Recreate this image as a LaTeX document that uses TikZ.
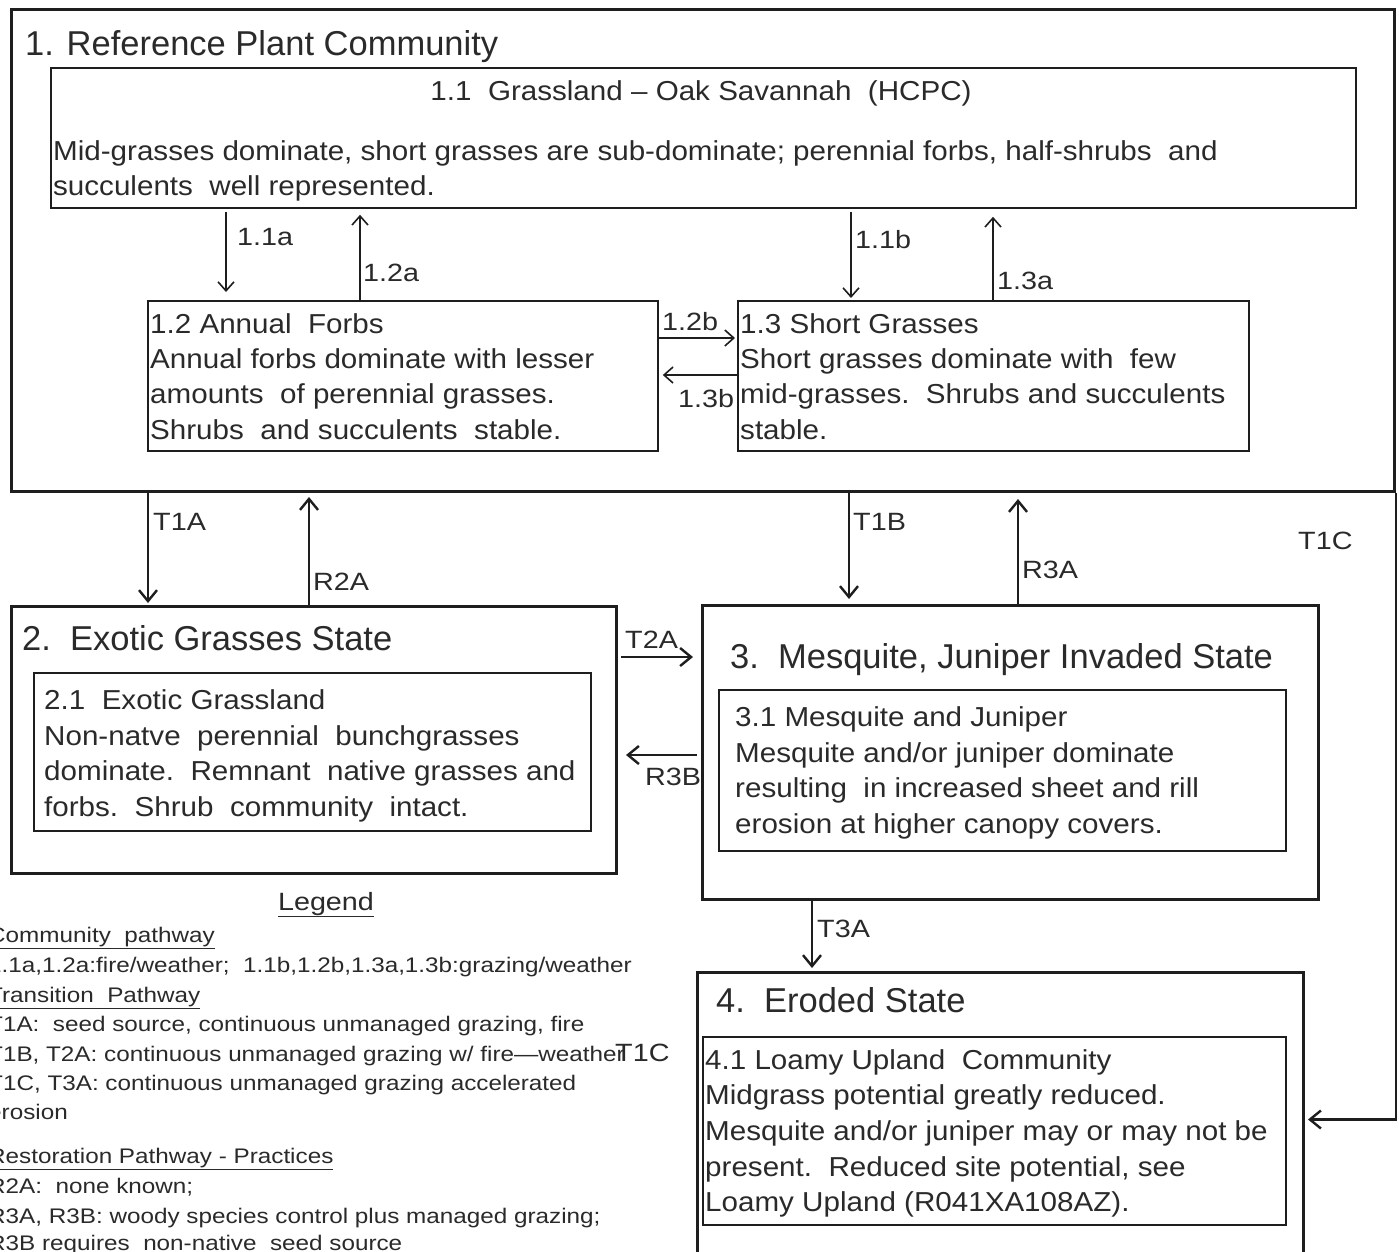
\documentclass[tikz,border=0pt]{standalone}
\usepackage{fontspec}
\setmainfont{Liberation Sans}
\newfontfamily\bodyfont{Liberation Sans}[FakeStretch=1.08,Ligatures=TeX]
\newfontfamily\legfont{Liberation Sans}[FakeStretch=1.15,Ligatures=TeX]
\newfontfamily\lblfont{Liberation Sans}[FakeStretch=1.15,Ligatures=TeX]
\usetikzlibrary{arrows.meta}
\definecolor{linec}{HTML}{1E1E1E}
\definecolor{textc}{HTML}{2A2A2A}
\begin{document}
\begin{tikzpicture}[x=1pt,y=-1pt,
  thickbox/.style={draw=linec, line width=3pt, inner sep=0pt, anchor=north west},
  thinbox/.style={draw=linec, line width=1.8pt, inner sep=0pt, anchor=north west},
  ttl/.style={font=\fontsize{34.5}{40}\selectfont, text=textc, inner sep=0pt, anchor=base west},
  body/.style={font=\bodyfont\fontsize{27.4}{32}\selectfont, text=textc, inner sep=0pt, anchor=base west},
  lbl/.style={font=\lblfont\fontsize{25}{30}\selectfont, text=textc, inner sep=0pt, anchor=base west},
  leg/.style={font=\legfont\fontsize{21.1}{25}\selectfont, text=textc, inner sep=0pt, anchor=base west},
  thinarr/.style={draw=linec, line width=1.6pt, -{Straight Barb[length=9pt,width=16pt,line width=1.6pt]}},
  thickarr/.style={draw=linec, line width=2.6pt, -{Straight Barb[length=11pt,width=18pt,line width=2.4pt]}},
]
\useasboundingbox (0,0) rectangle (1399,1251);
\fill[white] (0,0) rectangle (1399,1251);

% boxes
\node[thickbox, minimum width=1383pt, minimum height=482pt] (b1) at (10,8) {};
\node[thinbox, minimum width=1305pt, minimum height=140pt] (b11) at (50,67) {};
\node[thinbox, minimum width=510pt, minimum height=150pt] (b12) at (147,300) {};
\node[thinbox, minimum width=511pt, minimum height=150pt] (b13) at (737,300) {};
\node[thickbox, minimum width=605pt, minimum height=267pt] (b2) at (10,605) {};
\node[thinbox, minimum width=557pt, minimum height=158pt] (b21) at (33,672) {};
\node[thickbox, minimum width=616pt, minimum height=294pt] (b3) at (701,604) {};
\node[thinbox, minimum width=567pt, minimum height=161pt] (b31) at (718,689) {};
\node[thickbox, minimum width=606pt, minimum height=294pt] (b4) at (696,971) {};
\node[thinbox, minimum width=583pt, minimum height=188pt] (b41) at (702,1036) {};

% box texts
\node[ttl] (t1) at (25,55) {1. Reference Plant Community};
\node[body, anchor=base] (t11) at (701,100) {1.1\ \ Grassland – Oak Savannah\ \ (HCPC)};
\node[body] (t11b) at (53,160) {Mid-grasses dominate, short grasses are sub-dominate; perennial forbs, half-shrubs\ \ and};
\node[body] (t11c) at (53,195) {succulents\ \ well represented.};

\node[body] (t12a) at (150,333) {1.2 Annual\ \ Forbs};
\node[body] (t12b) at (150,368) {Annual forbs dominate with lesser};
\node[body] (t12c) at (150,403) {amounts\ \ of perennial grasses.};
\node[body] (t12d) at (150,439) {Shrubs\ \ and succulents\ \ stable.};

\node[body] (t13a) at (740,333) {1.3 Short Grasses};
\node[body] (t13b) at (740,368) {Short grasses dominate with\ \ few};
\node[body] (t13c) at (740,403) {mid-grasses.\ \ Shrubs and succulents};
\node[body] (t13d) at (740,439) {stable.};

\node[ttl] (t2) at (22,650) {2.\ \ Exotic Grasses State};
\node[body] (t21a) at (44,709) {2.1\ \ Exotic Grassland};
\node[body] (t21b) at (44,745) {Non-natve\ \ perennial\ \ bunchgrasses};
\node[body] (t21c) at (44,780) {dominate.\ \ Remnant\ \ native grasses and};
\node[body] (t21d) at (44,816) {forbs.\ \ Shrub\ \ community\ \ intact.};

\node[ttl] (t3) at (730,668) {3.\ \ Mesquite, Juniper Invaded State};
\node[body] (t31a) at (735,726) {3.1 Mesquite and Juniper};
\node[body] (t31b) at (735,762) {Mesquite and/or juniper dominate};
\node[body] (t31c) at (735,797) {resulting\ \ in increased sheet and rill};
\node[body] (t31d) at (735,833) {erosion at higher canopy covers.};

\node[ttl] (t4) at (716,1012) {4.\ \ Eroded State};
\node[body] (t41a) at (705,1069) {4.1 Loamy Upland\ \ Community};
\node[body] (t41b) at (705,1104) {Midgrass potential greatly reduced.};
\node[body] (t41c) at (705,1140) {Mesquite and/or juniper may or may not be};
\node[body] (t41d) at (705,1176) {present.\ \ Reduced site potential, see};
\node[body] (t41e) at (705,1211) {Loamy Upland (R041XA108AZ).};

% community pathways
\draw[thinarr] ([xshift=176pt,yshift=-3pt]b11.south west) -- ([xshift=79pt,yshift=8pt]b12.north west);
\draw[thinarr] ([xshift=213pt]b12.north west) -- ([xshift=310pt,yshift=-6pt]b11.south west);
\draw[thinarr] ([xshift=801pt,yshift=-3pt]b11.south west) -- ([xshift=114pt,yshift=2pt]b13.north west);
\draw[thinarr] ([xshift=256pt]b13.north west) -- ([xshift=943pt,yshift=-8pt]b11.south west);
\draw[thinarr] ([yshift=-38pt]b12.north east) -- ([xshift=-2pt,yshift=-38pt]b13.north west);
\draw[thinarr] ([yshift=-75pt]b13.north west) -- ([xshift=4pt,yshift=-75pt]b12.north east);
\node[lbl] (l11a) at (237,245) {1.1a};
\node[lbl] (l12a) at (363,281) {1.2a};
\node[lbl] (l11b) at (855,248) {1.1b};
\node[lbl] (l13a) at (997,289) {1.3a};
\node[lbl] (l12b) at (662,330) {1.2b};
\node[lbl] (l13b) at (678,407) {1.3b};

% transitions
\draw[thickarr] ([xshift=138pt]b1.south west) -- ([xshift=138pt,yshift=2pt]b2.north west);
\draw[thickarr] ([xshift=299pt]b2.north west) -- ([xshift=299pt,yshift=-4pt]b1.south west);
\draw[thickarr] ([xshift=839pt]b1.south west) -- ([xshift=148pt,yshift=5pt]b3.north west);
\draw[thickarr] ([xshift=317pt]b3.north west) -- ([xshift=1008pt,yshift=-6pt]b1.south west);
\draw[thickarr] ([xshift=3pt,yshift=-52pt]b2.north east) -- ([xshift=-8pt,yshift=-53pt]b3.north west);
\draw[thickarr] ([xshift=-4pt,yshift=-151pt]b3.north west) -- ([xshift=8pt,yshift=-150pt]b2.north east);
\draw[thickarr] ([xshift=111pt]b3.south west) -- ([xshift=116pt,yshift=3pt]b4.north west);
\draw[thickarr] (b1.south east) |- ([xshift=3pt]b4.east);
\node[lbl] (lt1a) at (153,530) {T1A};
\node[lbl] (lr2a) at (313,590) {R2A};
\node[lbl] (lt1b) at (853,530) {T1B};
\node[lbl] (lr3a) at (1022,578) {R3A};
\node[lbl] (lt1c) at (1298,549) {T1C};
\node[lbl] (lt2a) at (625,648) {T2A};
\node[lbl] (lr3b) at (645,785) {R3B};
\node[lbl] (lt3a) at (817,937) {T3A};

% legend
\node[lbl, anchor=base] (lg) at (326,910) {\underline{Legend}};
\node[leg] (g1) at (-12,942) {\underline{Community\ \ pathway}};
\node[leg] (g2) at (-12,972) {1.1a,1.2a:fire/weather;\ \ 1.1b,1.2b,1.3a,1.3b:grazing/weather};
\node[leg] (g3) at (-12,1002) {\underline{Transition\ \ Pathway}};
\node[leg] (g4) at (-12,1031) {T1A:\ \ seed source, continuous unmanaged grazing, fire};
\node[leg] (g5) at (-12,1061) {T1B, T2A: continuous unmanaged grazing w/ fire—weather};
\node[lbl] (g5b) at (615,1061) {T1C};
\node[leg] (g6) at (-12,1090) {T1C, T3A: continuous unmanaged grazing accelerated};
\node[leg] (g7) at (-12,1119) {erosion};
\node[leg] (g8) at (-12,1163) {\underline{Restoration Pathway - Practices}};
\node[leg] (g9) at (-12,1193) {R2A:\ \ none known;};
\node[leg] (g10) at (-12,1223) {R3A, R3B: woody species control plus managed grazing;};
\node[leg] (g11) at (-12,1250) {R3B requires\ \ non-native\ \ seed source};
\end{tikzpicture}
\end{document}
